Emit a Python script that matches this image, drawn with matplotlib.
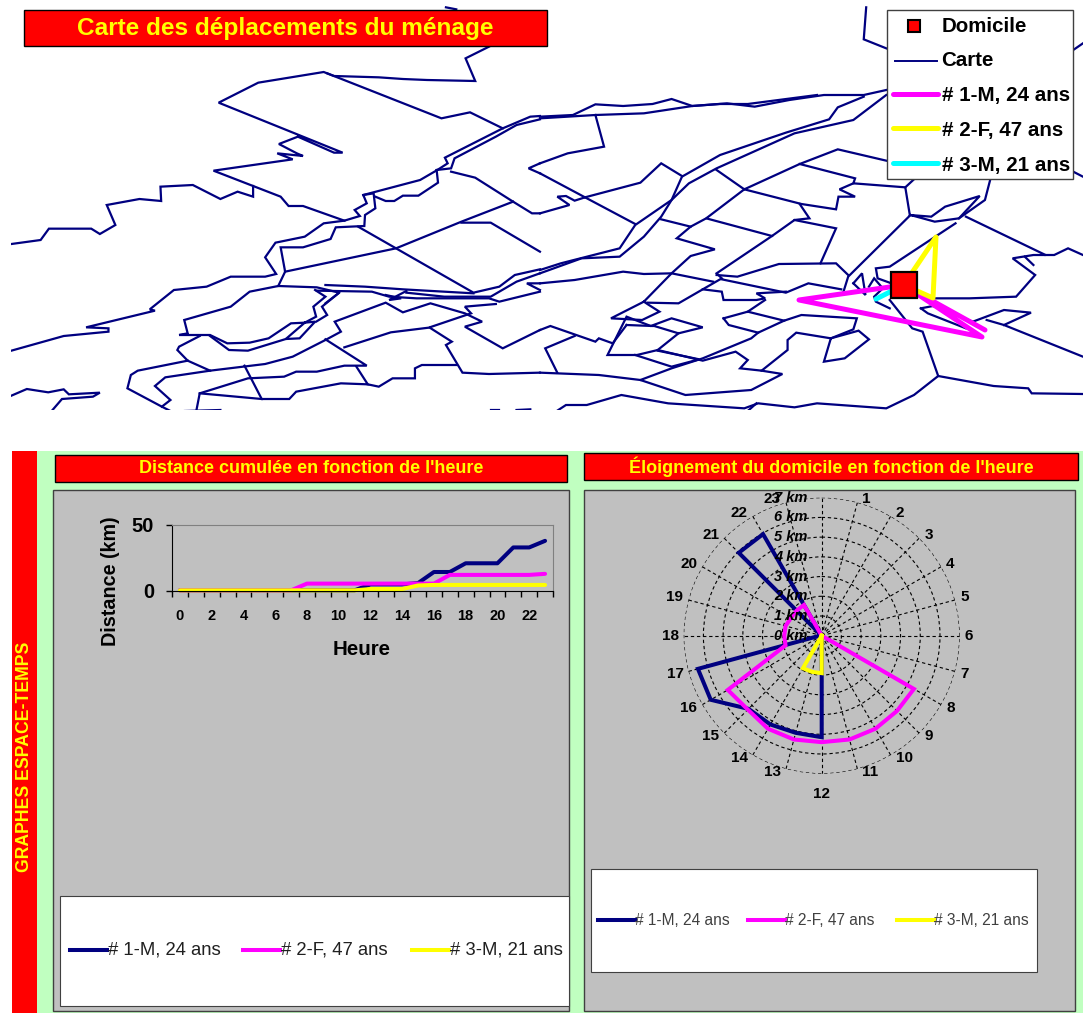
import numpy as np
import matplotlib
matplotlib.use("Agg")
import matplotlib.pyplot as plt
from matplotlib.patches import Rectangle

plt.rcParams['font.family'] = ['Liberation Sans', 'DejaVu Sans']

W, H = 1083, 1013
NAVY = '#000080'
MAGENTA = '#FF00FF'
YELLOW = '#FFFF00'
CYAN = '#00FFFF'
RED = '#FF0000'
GRAY = '#C0C0C0'
GREEN = '#C0FFC0'

PERSONS = ['# 1-M, 24 ans', '# 2-F, 47 ans', '# 3-M, 21 ans']
HOURS = list(range(24))

# cumulated distance per hour (km)
dist_p1 = [.5, .5, .5, .5, .5, .5, .5, .5, .5, .5, .5, .5, 5, 5, 5, 6, 14.4, 14.4, 21, 21, 21, 33, 33, 38]
dist_p2 = [.5, .5, .5, .5, .5, .5, .5, .5, 5.6, 5.6, 5.6, 5.6, 5.6, 5.6, 5.6, 5.6, 5.6, 12.2, 12.2, 12.2, 12.2, 12.2, 12.2, 13]
dist_p3 = [.5, .5, .5, .5, .5, .5, .5, .5, .5, .5, .5, .5, 1.5, 1.5, 1.5, 4.2, 4.6, 4.6, 4.6, 4.6, 4.6, 4.6, 4.6, 4.6]

# distance from home per hour (km)
away_p1 = [0, 0, 0, 0, 0, 0, 0, 0, 0, 0, 0, 0, 5.15, 5.1, 5.2, 5.25, 6.5, 6.5, 0.1, 0, 0, 5.95, 5.95, 0]
away_p2 = [0, 0, 0, 0, 0, 0, 0, 0, 5.4, 5.4, 5.45, 5.45, 5.4, 5.45, 5.45, 5.3, 5.5, 1.9, 1.9, 1.9, 1.8, 1.8, 1.8, 0]
away_p3 = [0, 0, 0, 0, 0, 0, 0, 0, 0, 0, 0, 0, 1.9, 1.9, 1.9, 0, 0, 0, 0, 0, 0, 0, 0, 0]

# map sheets, digitised in grid units
MAP_WEST = [
    [(1295, 22), (1325, 28)],
    [(1420, 140), (1352, 175), (1380, 243), (1240, 240), (1170, 237), (1100, 232), (970, 228), (940, 216), (750, 248),
     (635, 308), (995, 458), (970, 458), (865, 410), (810, 432), (862, 460), (880, 468), (805, 460), (850, 478),
     (620, 512), (815, 590), (838, 618), (880, 618), (1000, 662), (1045, 648), (1030, 630), (1065, 610), (1055, 585),
     (1220, 540), (1270, 510), (1300, 490), (1292, 473), (1460, 385), (1540, 350), (1568, 348)],
    [(950, 220), (1282, 355), (1365, 337), (1460, 385)],
    [(33, 732), (118, 720), (142, 686), (265, 686), (290, 702), (335, 675), (310, 615), (405, 597), (468, 603),
     (466, 560), (560, 555), (640, 597), (690, 575), (735, 590), (735, 558)],
    [(1000, 662), (940, 670), (885, 710), (800, 728), (770, 772), (802, 822), (770, 830), (670, 830), (600, 860),
     (505, 870), (435, 928), (450, 932), (250, 982), (315, 985), (315, 995), (185, 1008), (33, 1052)],
    [(1055, 585), (1085, 580), (1090, 625), (1060, 645), (1058, 678), (975, 682), (960, 717), (880, 742), (815, 742),
     (828, 815), (808, 858), (920, 862), (985, 878), (945, 910)],
    [(828, 815), (1150, 745), (1340, 665), (1490, 605)],
    [(1340, 668), (1425, 668), (1568, 755)],
    [(1040, 680), (1150, 745), (1375, 878), (1450, 860), (1495, 825), (1568, 808)],
    [(1090, 590), (1120, 603), (1145, 603), (1170, 587), (1215, 587), (1272, 548), (1268, 510)],
    [(1310, 515), (1380, 533), (1490, 605), (1545, 640), (1568, 640)],
    [(1268, 510), (1310, 505), (1320, 475), (1440, 410), (1500, 375), (1568, 358)],
    [(1568, 520), (1535, 505), (1568, 490)],
    [(945, 855), (1060, 860), (1170, 868), (1375, 880)],
    [(920, 872), (1080, 875), (1130, 890), (1210, 895), (1420, 895), (1450, 905), (1568, 875)],
    [(1180, 878), (1290, 890), (1425, 890), (1500, 845), (1568, 820)],
    [(1568, 850), (1530, 850), (1568, 870)],
    [(808, 858), (725, 875), (670, 920), (535, 960), (545, 1000), (520, 1005), (610, 1005), (660, 1030), (725, 1028),
     (780, 1015), (845, 970), (885, 968), (915, 965), (870, 1015), (830, 1017), (885, 968)],
    [(915, 870), (945, 890), (910, 920), (918, 950), (885, 968)],
    [(918, 965), (950, 945), (935, 920), (985, 878)],
    [(580, 1008), (520, 1040), (515, 1050), (545, 1082), (610, 1112), (770, 1092), (850, 1070), (945, 1020), (990, 995),
     (972, 965), (1120, 908), (1170, 937), (1250, 910), (1350, 940), (1400, 965), (1350, 980), (1460, 1045), (1568, 990)],
    [(610, 1008), (665, 1050), (720, 1052), (830, 1017)],
    [(945, 1018), (1065, 1097), (1000, 1097), (920, 1115), (860, 1115), (825, 1130), (720, 1135), (580, 1180), (570, 1233)],
    [(1000, 1042), (1135, 997), (1245, 983), (1368, 940), (1350, 920), (1440, 912)],
    [(1248, 983), (1312, 1025), (1295, 1035), (1343, 1118), (1420, 1122), (1568, 1118)],
    [(1035, 1100), (1068, 1153), (990, 1150), (860, 1175), (840, 1197), (760, 1197), (710, 1097)],
    [(1068, 1153), (1100, 1160), (1140, 1135), (1205, 1135), (1205, 1105), (1225, 1095), (1325, 1095)],
    [(545, 1082), (400, 1112), (380, 1125), (370, 1165), (470, 1220), (495, 1233)],
    [(610, 1112), (480, 1132), (450, 1158), (495, 1200), (470, 1220)],
    [(580, 1180), (760, 1197)],
    [(33, 1187), (78, 1167), (140, 1177), (185, 1168), (200, 1183), (290, 1178), (270, 1190), (180, 1197), (150, 1233)],
    [(1120, 885), (1165, 895), (1130, 900), (1180, 873)],
    [(537, 1233), (640, 1230)],
    [(1425, 1230), (1450, 1230)],
    [(1500, 1230), (1540, 1228)],
]
MAP_EAST = [
    [(942, 22), (935, 118), (1000, 145)],
    [(1540, 150), (1568, 130)],
    [(0, 350), (95, 345), (160, 313), (240, 318), (325, 312), (380, 297), (440, 318), (540, 310), (620, 320), (720, 300),
     (820, 285), (935, 285), (1000, 270)],
    [(0, 355), (160, 345), (300, 340), (440, 318), (520, 312), (600, 312), (800, 285)],
    [(1000, 285), (905, 360), (735, 400), (510, 505), (430, 550), (380, 600), (350, 650), (300, 710), (230, 770),
     (120, 775), (0, 820)],
    [(935, 290), (860, 322), (835, 358), (710, 398), (520, 465), (410, 530), (380, 600), (275, 675), (230, 745), (60, 790),
     (0, 810)],
    [(160, 345), (185, 440), (80, 460), (0, 490)],
    [(0, 520), (130, 592), (275, 672)],
    [(130, 592), (290, 548), (350, 490), (410, 528)],
    [(0, 640), (85, 615), (50, 590), (75, 588), (100, 602), (130, 592)],
    [(510, 510), (590, 568), (750, 492), (860, 448), (1000, 482)],
    [(750, 492), (910, 535), (905, 550), (1055, 562), (1068, 645), (1130, 650), (1170, 620), (1270, 588), (1210, 655),
     (1140, 665), (1070, 645), (890, 830), (875, 880)],
    [(590, 568), (755, 612), (855, 628), (862, 590), (910, 590), (865, 568), (905, 550)],
    [(590, 568), (480, 655), (670, 708), (735, 660), (855, 685), (810, 790)],
    [(750, 612), (778, 655), (735, 660)],
    [(480, 655), (435, 680), (395, 715), (505, 748), (435, 768), (380, 820), (300, 905), (310, 912), (345, 935), (295, 960),
     (205, 955), (300, 905)],
    [(350, 658), (435, 680)],
    [(0, 850), (100, 840), (240, 815), (300, 822), (380, 820), (500, 845)],
    [(670, 708), (510, 820), (525, 835), (470, 868), (400, 910), (310, 908)],
    [(510, 825), (570, 830), (690, 792), (855, 790), (890, 825)],
    [(525, 838), (710, 878), (775, 850), (870, 868)],
    [(470, 868), (525, 875), (530, 900), (625, 900), (650, 895), (625, 880), (710, 875)],
    [(530, 955), (600, 935), (705, 962), (755, 945), (915, 955), (905, 988), (840, 1015), (740, 998), (715, 1020), (715, 1050),
     (640, 1112), (578, 1105), (600, 1080), (565, 1055), (470, 1082), (340, 1050), (280, 1065), (195, 1065), (250, 950),
     (320, 978), (380, 955), (470, 982), (400, 1000), (330, 978)],
    [(600, 935), (650, 900)],
    [(530, 955), (545, 975), (630, 998), (705, 962)],
    [(630, 998), (610, 1015), (470, 1075), (380, 1105), (290, 1140), (420, 1185), (610, 1170), (700, 1122), (640, 1112)],
    [(400, 1000), (340, 1050)],
    [(250, 975), (325, 978)],
    [(340, 1052), (460, 1078), (380, 1100), (275, 1065)],
    [(0, 1118), (170, 1125), (290, 1140)],
    [(0, 990), (30, 978), (160, 1025), (170, 1015), (210, 1030), (250, 975)],
    [(100, 1008), (15, 1045), (50, 1118)],
    [(50, 1232), (75, 1215), (135, 1215), (235, 1185), (370, 1210), (590, 1225), (630, 1210), (735, 1222), (800, 1210), (1000, 1225),
     (1080, 1185), (1150, 1128), (1310, 1158), (1410, 1165), (1420, 1180), (1568, 1182)],
    [(600, 1233), (625, 1210)],
    [(1150, 1128), (1105, 995), (1075, 985), (1010, 900)],
    [(840, 1015), (820, 1085), (880, 1075), (950, 1018), (920, 992), (840, 1015)],
    [(905, 850), (930, 820), (940, 885), (905, 850)],
    [(950, 860), (965, 835), (990, 865), (965, 890), (970, 905), (1010, 925)],
    [(1200, 670), (1010, 800), (970, 805), (975, 835), (1015, 850)],
    [(1140, 895), (1240, 895), (1375, 890), (1430, 825), (1365, 775), (1425, 765), (1460, 765), (1230, 650)],
    [(1460, 765), (1485, 765), (1525, 745), (1568, 765)],
    [(1400, 770), (1425, 795)],
    [(1100, 925), (1135, 918), (1250, 965), (1340, 930), (1418, 938), (1340, 975)],
    [(1100, 925), (1120, 940), (1230, 985)],
    [(1290, 960), (1340, 975), (1568, 1070)],
    [(1300, 540), (1285, 600), (1210, 655)],
    [(1540, 515), (1568, 530)],
    [(1055, 562), (1080, 538)],
]
HOME = (903.7, 285)
TRIP_P1 = [HOME, (799, 300), (982, 337), HOME, (985, 330)]
TRIP_P2 = [HOME, (936, 237), (933, 298), HOME]
TRIP_P3 = [HOME, (876, 299)]


def px_axes(x0, y0, x1, y1, **kw):
    # axes placed by pixel box, y counted from the top
    return fig.add_axes([x0 / W, 1 - y1 / H, (x1 - x0) / W, (y1 - y0) / H], **kw)


def banner(x0, y0, x1, y1, text, size, zorder=6):
    page.add_patch(Rectangle((x0 + 1, y0 + 1), x1 - x0, y1 - y0, fc='#808080', ec='none', zorder=zorder))
    page.add_patch(Rectangle((x0, y0), x1 - x0, y1 - y0, fc=RED, ec='black', lw=1, zorder=zorder + .1))
    page.text((x0 + x1) / 2, (y0 + y1) / 2, text, color=YELLOW, fontsize=size, fontweight='bold',
              ha='center', va='center', zorder=zorder + .2)


fig = plt.figure(figsize=(W / 100, H / 100), dpi=100, facecolor='white')

# --- map ---
ax_map = px_axes(11, 0, W, 410)
ax_map.set_xlim(11, W)
ax_map.set_ylim(410, 0)
ax_map.axis('off')
for line in MAP_WEST:
    pts = np.array(line)
    ax_map.plot(pts[:, 0] / 2.904, pts[:, 1] / 3, color=NAVY, lw=1.6, solid_joinstyle='miter')
for line in MAP_EAST:
    pts = np.array(line)
    ax_map.plot(pts[:, 0] / 2.888 + 540, pts[:, 1] / 3, color=NAVY, lw=1.6, solid_joinstyle='miter')
for trip, col in zip([TRIP_P1, TRIP_P2, TRIP_P3], [MAGENTA, YELLOW, CYAN]):
    pts = np.array(trip)
    ax_map.plot(pts[:, 0], pts[:, 1], color=col, lw=3.6, solid_capstyle='round')
ax_map.plot(*HOME, 's', ms=18.2, mfc=RED, mec='black', mew=1.6)

# --- page furniture (pixel coordinates) ---
page = px_axes(0, 0, W, H)
page.set_xlim(0, W)
page.set_ylim(H, 0)
page.axis('off')
page.patch.set_alpha(0)

banner(24, 10, 547, 46, 'Carte des déplacements du ménage', 17.6)

# map legend
page.add_patch(Rectangle((887, 10), 186, 169, fc='white', ec='#404040', lw=1, zorder=6))
page.plot(914, 26, 's', ms=8.5, mfc=RED, mec='black', mew=1.5, zorder=7)
page.plot([895, 937], [61, 61], color=NAVY, lw=1.4, zorder=7)
for yy, col in zip([94, 128, 163], [MAGENTA, YELLOW, CYAN]):
    page.plot([893, 938], [yy, yy], color=col, lw=3.6, solid_capstyle='round', zorder=7)
for yy, lab in zip([26, 60, 95, 130, 165], ['Domicile', 'Carte'] + PERSONS):
    page.text(941.5, yy, lab, fontsize=14.8, fontweight='bold', va='center', zorder=7)

# lower band
page.add_patch(Rectangle((12, 451), W - 12, H - 451, fc=GREEN, ec='none', zorder=1))
page.add_patch(Rectangle((12, 451), 25, H - 451, fc=RED, ec='none', zorder=2))
page.text(24.5, 757, 'GRAPHES ESPACE-TEMPS', color=YELLOW, fontsize=12.7, fontweight='bold',
          rotation=90, ha='center', va='center', zorder=3)
page.add_patch(Rectangle((53, 490), 516, 521, fc=GRAY, ec='#404040', lw=1, zorder=2))
page.add_patch(Rectangle((584, 490), 491, 521, fc=GRAY, ec='#404040', lw=1, zorder=2))
banner(55, 455, 567, 482, "Distance cumulée en fonction de l'heure", 13, zorder=3)
banner(584, 453, 1078, 480, "Éloignement du domicile en fonction de l'heure", 13, zorder=3)

# chart legends
page.add_patch(Rectangle((60, 896), 509, 110, fc='white', ec='#404040', lw=.8, zorder=3))
for x0, col, lab in zip([70, 243, 412], [NAVY, MAGENTA, YELLOW], PERSONS):
    page.plot([x0, x0 + 37], [950, 950], color=col, lw=2.9, zorder=4)
    page.text(x0 + 38, 950, lab, fontsize=13.3, color='#202020', va='center', zorder=4)
page.add_patch(Rectangle((591, 869), 446, 103, fc='white', ec='#404040', lw=.8, zorder=3))
for x0, col, lab in zip([598, 748, 897], [NAVY, MAGENTA, YELLOW], PERSONS):
    page.plot([x0, x0 + 37], [920, 920], color=col, lw=2.9, zorder=4)
    page.text(x0 + 37, 920, lab, fontsize=11.2, color='#404040', va='center', zorder=4)

# --- cumulated distance ---
ax_d = px_axes(172, 525, 553, 591)
ax_d.patch.set_alpha(0)
for vals, col in zip([dist_p1, dist_p2, dist_p3], [NAVY, MAGENTA, YELLOW]):
    ax_d.plot(HOURS, vals, color=col, lw=2.9, clip_on=False, solid_capstyle='round')
ax_d.set_xlim(-.5, 23.5)
ax_d.set_ylim(0, 50)
ax_d.set_yticks([0, 50])
ax_d.set_xticks(HOURS[::2])
ax_d.set_xticks(np.arange(-.5, 24), minor=True)
ax_d.tick_params(axis='x', which='major', length=0, pad=13, labelsize=10.5)
ax_d.tick_params(axis='x', which='minor', length=4, width=1)
ax_d.tick_params(axis='y', length=4, width=1, pad=9, labelsize=14.5)
for lab in ax_d.get_xticklabels() + ax_d.get_yticklabels():
    lab.set_fontweight('bold')
for side in ['top', 'right']:
    ax_d.spines[side].set_color('#808080')
page.text(110, 581, 'Distance (km)', fontsize=14.2, fontweight='bold', rotation=90, ha='center', va='center', zorder=4)
page.text(362, 649, 'Heure', fontsize=14.8, fontweight='bold', ha='center', va='center', zorder=4)

# --- distance from home ---
cx, cy, rad = 821.7, 635.7, 138
ax_p = px_axes(cx - rad, cy - rad, cx + rad, cy + rad, polar=True)
ax_p.patch.set_alpha(0)
ax_p.set_theta_zero_location('N')
ax_p.set_theta_direction(-1)
ax_p.set_ylim(0, 7)
ax_p.set_rticks(range(1, 8))
ax_p.set_yticklabels([])
ax_p.set_thetagrids(np.arange(0, 360, 15), labels=[])
ax_p.grid(True, color='black', ls=(0, (3, 2.5)), lw=.8)
ax_p.spines['polar'].set_visible(False)
theta = np.deg2rad(np.array(HOURS + [24]) * 15)
for vals, col in zip([away_p1, away_p2, away_p3], [NAVY, MAGENTA, YELLOW]):
    ax_p.plot(theta, list(vals) + [vals[0]], color=col, lw=2.9, clip_on=False, solid_joinstyle='miter')

for km in range(8):
    ax_p.annotate(f'{km} km', (0, km), xytext=(-10, 0), textcoords='offset points', ha='right', va='center',
                  fontsize=10.5, fontweight='bold', fontstyle='italic', annotation_clip=False)
for hour in HOURS[1:]:
    if hour == 12:
        ha, dx, dy = 'center', 0, -14.5
    elif hour < 12:
        ha, dx, dy = 'left', 3.6, 2.2 if hour < 6 else (0 if hour == 6 else -2.2)
    else:
        ha, dx, dy = 'right', -3.6, -2.2 if hour < 18 else (0 if hour == 18 else 2.2)
    ax_p.annotate(str(hour), (np.deg2rad(hour * 15), 7), xytext=(dx, dy), textcoords='offset points', ha=ha, va='center',
                  fontsize=11, fontweight='bold', annotation_clip=False)

fig.savefig('out.png', dpi=100)
